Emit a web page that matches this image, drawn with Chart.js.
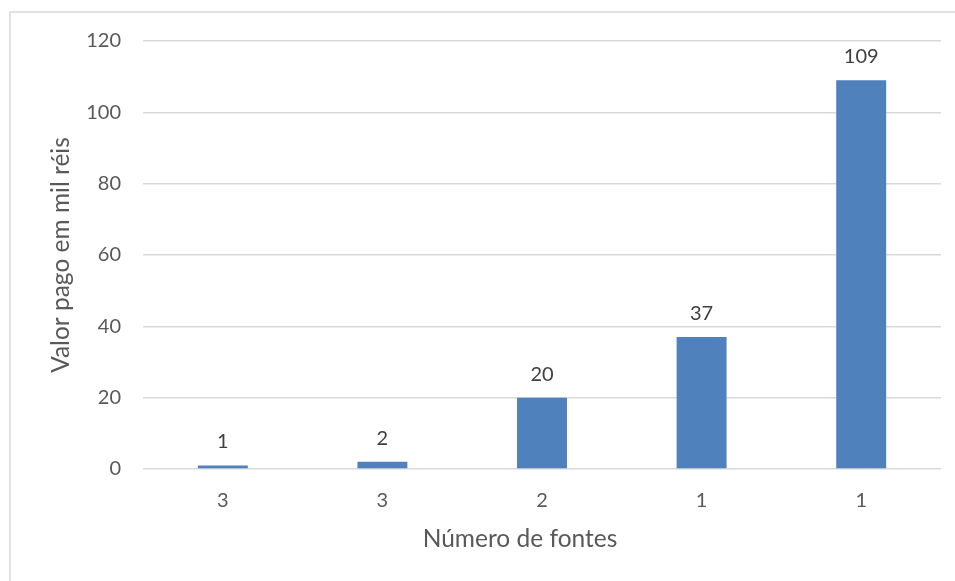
<!DOCTYPE html>
<html>
<head>
<meta charset="utf-8">
<script src="https://cdn.jsdelivr.net/npm/chart.js@4"></script>
<style>
html,body{margin:0;padding:0;background:#fff;}
#wrap{width:955px;height:581px;position:relative;}
</style>
</head>
<body>
<div id="wrap"><canvas id="c" width="955" height="581"></canvas></div>
<script>
const categories = ["3", "3", "2", "1", "1"];
const values = [1, 2, 20, 37, 109];
const yTicks = [0, 20, 40, 60, 80, 100, 120];
const yTitle = "Valor pago em mil réis";
const xTitle = "Número de fontes";

const FONT = "Lato, 'Open Sans', sans-serif";

const frame = {
  id: 'frame',
  beforeDraw(chart) {
    const ctx = chart.ctx;
    ctx.save();
    ctx.strokeStyle = '#d9d9d9';
    ctx.lineWidth = 1.5;
    ctx.beginPath();
    ctx.moveTo(10, 581);
    ctx.lineTo(10, 12);
    ctx.lineTo(955, 12);
    ctx.stroke();
    ctx.restore();
  }
};

const labels = {
  id: 'labels',
  afterDatasetsDraw(chart) {
    const ctx = chart.ctx;
    const meta = chart.getDatasetMeta(0);
    ctx.save();
    ctx.fillStyle = '#404040';
    ctx.font = "20px " + FONT;
    ctx.textAlign = 'center';
    ctx.textBaseline = 'alphabetic';
    meta.data.forEach((bar, i) => {
      ctx.fillText(String(values[i]), bar.x, bar.y - 17);
    });
    // x axis title (offset left of plot centre, as in the reference)
    ctx.fillStyle = '#595959';
    ctx.font = "24.5px " + FONT;
    ctx.textBaseline = 'middle';
    ctx.fillText(xTitle, 520, 539);
    ctx.restore();
  }
};

new Chart(document.getElementById('c'), {
  type: 'bar',
  data: {
    labels: categories,
    datasets: [{
      data: values,
      backgroundColor: '#4f81bd',
      barPercentage: 0.313,
      categoryPercentage: 1.0
    }]
  },
  options: {
    responsive: false,
    animation: false,
    devicePixelRatio: 1,
    layout: { padding: { left: 10, right: 14, top: 41, bottom: 0 } },
    plugins: { legend: { display: false }, tooltip: { enabled: false } },
    scales: {
      x: {
        grid: { display: false, drawTicks: false },
        border: { display: false },
        ticks: { color: '#595959', font: { size: 20, family: FONT }, padding: 20 },
        title: { display: false },
        afterFit(s) { s.height = 581 - 469; }
      },
      y: {
        min: 0, max: 120,
        afterBuildTicks(s) { s.ticks = yTicks.map(v => ({ value: v })); },
        grid: { color: '#d9d9d9', lineWidth: 1.5, drawTicks: false },
        border: { display: false },
        ticks: { color: '#595959', font: { size: 20, family: FONT }, padding: 22 },
        title: { display: true, text: yTitle, color: '#595959', font: { size: 24.5, family: FONT }, padding: { top: 36, bottom: 0 } },
        afterFit(s) { s.width = 143 - 10; }
      }
    }
  },
  plugins: [frame, labels]
});
</script>
</body>
</html>
